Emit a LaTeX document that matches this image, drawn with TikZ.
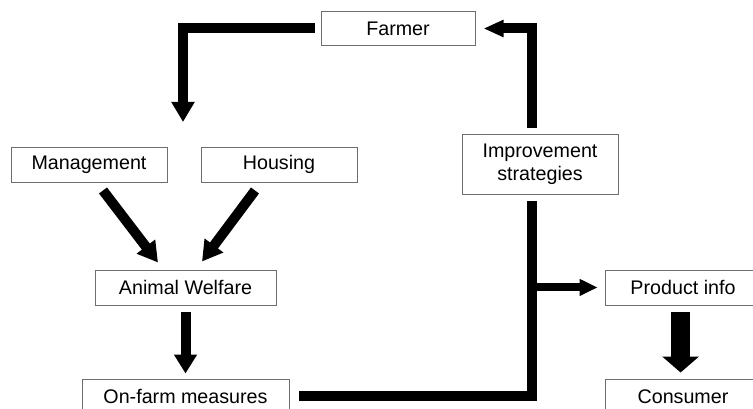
\documentclass[tikz,border=0pt]{standalone}
\usepackage{fontspec}
\setmainfont{Liberation Sans}
\usetikzlibrary{positioning,calc,arrows.meta}
\definecolor{boxgray}{RGB}{110,110,110}

\begin{document}
\begin{tikzpicture}[
  stage/.style={draw=boxgray, line width=0.7pt, fill=white, inner sep=0pt, minimum width=3.9cm, minimum height=0.875cm, font=\fontsize{14}{16.5}\selectfont, align=center},
  flow/.style={-{Triangle[width=0.55cm, length=0.5cm]}, line width=0.25cm, black},
  link/.style={line width=0.25cm, black}
]
  \clip (0,0) rectangle (18.825,10.225);

  \node[stage, minimum width=3.85cm, minimum height=0.85cm] (farmer) at (9.95,9.5125) {Farmer};
  \node[stage] (mgmt) at (2.225,6.1125) {Management};
  \node[stage] (housing) at (6.975,6.1125) {Housing};
  \node[stage, minimum height=1.5cm] (improve) at (13.5,6.125) {Improvement\\strategies};
  \node[stage, minimum width=4.525cm] (welfare) at (4.6375,3.0375) {Animal Welfare};
  \node[stage, minimum width=5.175cm] (onfarm) at (4.6375,0.3125) {On-farm measures};
  \node[stage] (prodinfo) at (17.075,3.0375) {Product info};
  \node[stage] (consumer) at (17.075,0.3125) {Consumer};

  \coordinate (drop) at (4.575,7.175);
  \coordinate (branch) at ([xshift=-0.2cm]improve.south |- prodinfo.west);

  \draw[flow] ([xshift=-0.15cm]farmer.west) -| (drop);
  \draw[flow, -{Triangle[width=0.4cm, length=0.5cm]}] ([xshift=-0.2cm, yshift=0.15cm]improve.north) |- ([xshift=0.2cm]farmer.east);
  \draw[flow] ($(mgmt.south)+(0.35,-0.2)$) -- ($(welfare.north)+(-0.6875,0.175)$);
  \draw[flow] ($(housing.south)+(-0.6,-0.2)$) -- ($(welfare.north)+(0.4125,0.2)$);
  \draw[flow, -{Triangle[width=0.55cm, length=0.475cm]}] ([yshift=-0.175cm]welfare.south) -- ([yshift=0.125cm]onfarm.north);
  \draw[link] ([xshift=0.25cm]onfarm.east) -| ([xshift=-0.2cm, yshift=-0.175cm]improve.south);
  \draw[flow, line width=0.2cm, -{Triangle[width=0.4cm, length=0.45cm]}] (branch) -- ([xshift=-0.175cm]prodinfo.west);
  \draw[flow, line width=0.475cm, -{Triangle[width=0.9cm, length=0.4cm]}] ([xshift=-0.06cm, yshift=-0.175cm]prodinfo.south) -- ([xshift=-0.06cm, yshift=0.15cm]consumer.north);
\end{tikzpicture}
\end{document}
